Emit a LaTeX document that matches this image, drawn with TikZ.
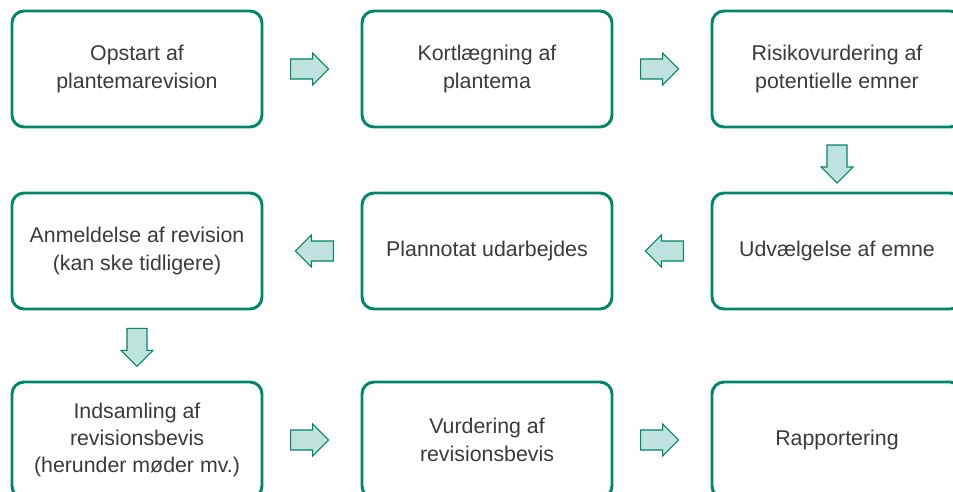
\documentclass[tikz,border=0pt]{standalone}
\usepackage{fontspec}
\setmainfont{Liberation Sans}
\usetikzlibrary{shapes.arrows,positioning}
\definecolor{boxgreen}{RGB}{0,135,104}
\definecolor{arrowfill}{RGB}{191,227,220}
\definecolor{txtgray}{RGB}{58,58,58}
\tikzset{
  stage/.style={draw=boxgreen, line width=2.2pt, rounded corners=9pt,
    minimum width=187.5pt, minimum height=87pt, inner sep=0pt,
    align=center, text=txtgray, font=\fontsize{16}{20.5}\selectfont},
  flow/.style={single arrow, draw=boxgreen, fill=arrowfill, line width=0.8pt,
    minimum height=28.5pt, minimum width=23.25pt, inner sep=7.1pt,
    single arrow head extend=4.5pt, single arrow head indent=0pt},
}
\begin{document}
\begin{tikzpicture}[x=0.75pt,y=-0.75pt]
	\useasboundingbox (0,0) rectangle (953,492);
	\clip (0,0) rectangle (953,492);

	% first row
	\node[stage] (opstart) at (137,69) {Opstart af\\plantemarevision};
	\node[stage] (kort) at (487,69) {Kortlægning af\\plantema};
	\node[stage] (risiko) at (837,69) {Risikovurdering af\\potentielle emner};

	% second row
	\node[stage] (anmeld) at (137,251) {Anmeldelse af revision\\(kan ske tidligere)};
	\node[stage] (plannotat) at (487,251) {Plannotat udarbejdes};
	\node[stage] (udvalg) at (837,251) {Udvælgelse af emne};

	% third row
	\node[stage] (indsaml) at (137,440) {Indsamling af\\revisionsbevis\\(herunder møder mv.)};
	\node[stage] (vurder) at (487,440) {Vurdering af\\revisionsbevis};
	\node[stage] (rapport) at (837,440) {Rapportering};

	% block arrows
	\node[flow, right=20pt of opstart] (f1) {};
	\node[flow, right=20pt of kort] (f2) {};
	\node[flow, shape border rotate=270, below=12pt of risiko] (f3) {};
	\node[flow, shape border rotate=180, left=20pt of udvalg] (f4) {};
	\node[flow, shape border rotate=180, left=20pt of plannotat] (f5) {};
	\node[flow, shape border rotate=270, below=13pt of anmeld] (f6) {};
	\node[flow, right=20pt of indsaml] (f7) {};
	\node[flow, right=20pt of vurder] (f8) {};

\end{tikzpicture}
\end{document}
